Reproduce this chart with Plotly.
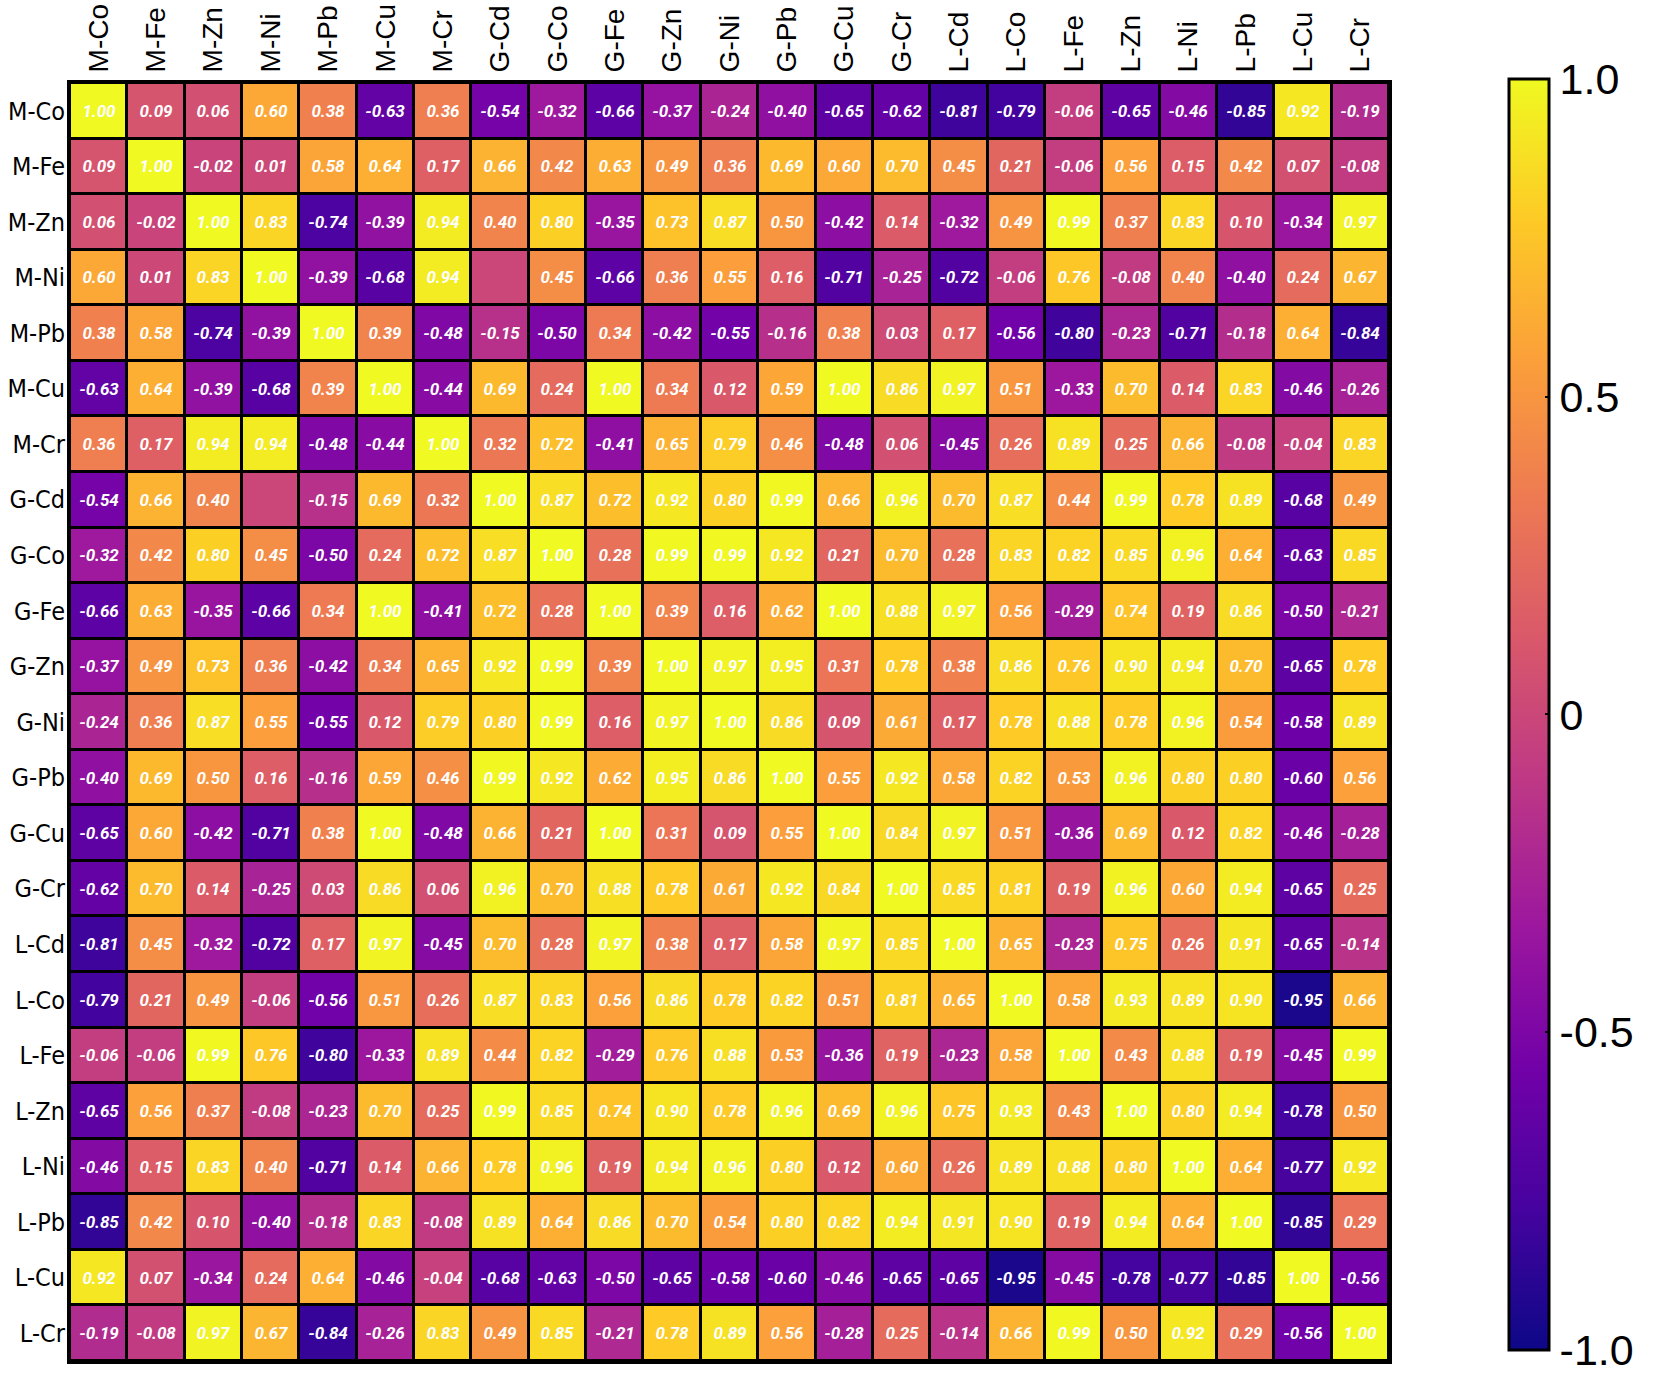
import plotly.graph_objects as go

labels = ["M-Co", "M-Fe", "M-Zn", "M-Ni", "M-Pb", "M-Cu", "M-Cr",
          "G-Cd", "G-Co", "G-Fe", "G-Zn", "G-Ni", "G-Pb", "G-Cu", "G-Cr",
          "L-Cd", "L-Co", "L-Fe", "L-Zn", "L-Ni", "L-Pb", "L-Cu", "L-Cr"]

r_MCo = [1.00, 0.09, 0.06, 0.60, 0.38, -0.63, 0.36, -0.54, -0.32, -0.66, -0.37, -0.24, -0.40, -0.65, -0.62, -0.81, -0.79, -0.06, -0.65, -0.46, -0.85, 0.92, -0.19]
r_MFe = [0.09, 1.00, -0.02, 0.01, 0.58, 0.64, 0.17, 0.66, 0.42, 0.63, 0.49, 0.36, 0.69, 0.60, 0.70, 0.45, 0.21, -0.06, 0.56, 0.15, 0.42, 0.07, -0.08]
r_MZn = [0.06, -0.02, 1.00, 0.83, -0.74, -0.39, 0.94, 0.40, 0.80, -0.35, 0.73, 0.87, 0.50, -0.42, 0.14, -0.32, 0.49, 0.99, 0.37, 0.83, 0.10, -0.34, 0.97]
r_MNi = [0.60, 0.01, 0.83, 1.00, -0.39, -0.68, 0.94, 0.00, 0.45, -0.66, 0.36, 0.55, 0.16, -0.71, -0.25, -0.72, -0.06, 0.76, -0.08, 0.40, -0.40, 0.24, 0.67]
r_MPb = [0.38, 0.58, -0.74, -0.39, 1.00, 0.39, -0.48, -0.15, -0.50, 0.34, -0.42, -0.55, -0.16, 0.38, 0.03, 0.17, -0.56, -0.80, -0.23, -0.71, -0.18, 0.64, -0.84]
r_MCu = [-0.63, 0.64, -0.39, -0.68, 0.39, 1.00, -0.44, 0.69, 0.24, 1.00, 0.34, 0.12, 0.59, 1.00, 0.86, 0.97, 0.51, -0.33, 0.70, 0.14, 0.83, -0.46, -0.26]
r_MCr = [0.36, 0.17, 0.94, 0.94, -0.48, -0.44, 1.00, 0.32, 0.72, -0.41, 0.65, 0.79, 0.46, -0.48, 0.06, -0.45, 0.26, 0.89, 0.25, 0.66, -0.08, -0.04, 0.83]
r_GCd = [-0.54, 0.66, 0.40, 0.00, -0.15, 0.69, 0.32, 1.00, 0.87, 0.72, 0.92, 0.80, 0.99, 0.66, 0.96, 0.70, 0.87, 0.44, 0.99, 0.78, 0.89, -0.68, 0.49]
r_GCo = [-0.32, 0.42, 0.80, 0.45, -0.50, 0.24, 0.72, 0.87, 1.00, 0.28, 0.99, 0.99, 0.92, 0.21, 0.70, 0.28, 0.83, 0.82, 0.85, 0.96, 0.64, -0.63, 0.85]
r_GFe = [-0.66, 0.63, -0.35, -0.66, 0.34, 1.00, -0.41, 0.72, 0.28, 1.00, 0.39, 0.16, 0.62, 1.00, 0.88, 0.97, 0.56, -0.29, 0.74, 0.19, 0.86, -0.50, -0.21]
r_GZn = [-0.37, 0.49, 0.73, 0.36, -0.42, 0.34, 0.65, 0.92, 0.99, 0.39, 1.00, 0.97, 0.95, 0.31, 0.78, 0.38, 0.86, 0.76, 0.90, 0.94, 0.70, -0.65, 0.78]
r_GNi = [-0.24, 0.36, 0.87, 0.55, -0.55, 0.12, 0.79, 0.80, 0.99, 0.16, 0.97, 1.00, 0.86, 0.09, 0.61, 0.17, 0.78, 0.88, 0.78, 0.96, 0.54, -0.58, 0.89]
r_GPb = [-0.40, 0.69, 0.50, 0.16, -0.16, 0.59, 0.46, 0.99, 0.92, 0.62, 0.95, 0.86, 1.00, 0.55, 0.92, 0.58, 0.82, 0.53, 0.96, 0.80, 0.80, -0.60, 0.56]
r_GCu = [-0.65, 0.60, -0.42, -0.71, 0.38, 1.00, -0.48, 0.66, 0.21, 1.00, 0.31, 0.09, 0.55, 1.00, 0.84, 0.97, 0.51, -0.36, 0.69, 0.12, 0.82, -0.46, -0.28]
r_GCr = [-0.62, 0.70, 0.14, -0.25, 0.03, 0.86, 0.06, 0.96, 0.70, 0.88, 0.78, 0.61, 0.92, 0.84, 1.00, 0.85, 0.81, 0.19, 0.96, 0.60, 0.94, -0.65, 0.25]
r_LCd = [-0.81, 0.45, -0.32, -0.72, 0.17, 0.97, -0.45, 0.70, 0.28, 0.97, 0.38, 0.17, 0.58, 0.97, 0.85, 1.00, 0.65, -0.23, 0.75, 0.26, 0.91, -0.65, -0.14]
r_LCo = [-0.79, 0.21, 0.49, -0.06, -0.56, 0.51, 0.26, 0.87, 0.83, 0.56, 0.86, 0.78, 0.82, 0.51, 0.81, 0.65, 1.00, 0.58, 0.93, 0.89, 0.90, -0.95, 0.66]
r_LFe = [-0.06, -0.06, 0.99, 0.76, -0.80, -0.33, 0.89, 0.44, 0.82, -0.29, 0.76, 0.88, 0.53, -0.36, 0.19, -0.23, 0.58, 1.00, 0.43, 0.88, 0.19, -0.45, 0.99]
r_LZn = [-0.65, 0.56, 0.37, -0.08, -0.23, 0.70, 0.25, 0.99, 0.85, 0.74, 0.90, 0.78, 0.96, 0.69, 0.96, 0.75, 0.93, 0.43, 1.00, 0.80, 0.94, -0.78, 0.50]
r_LNi = [-0.46, 0.15, 0.83, 0.40, -0.71, 0.14, 0.66, 0.78, 0.96, 0.19, 0.94, 0.96, 0.80, 0.12, 0.60, 0.26, 0.89, 0.88, 0.80, 1.00, 0.64, -0.77, 0.92]
r_LPb = [-0.85, 0.42, 0.10, -0.40, -0.18, 0.83, -0.08, 0.89, 0.64, 0.86, 0.70, 0.54, 0.80, 0.82, 0.94, 0.91, 0.90, 0.19, 0.94, 0.64, 1.00, -0.85, 0.29]
r_LCu = [0.92, 0.07, -0.34, 0.24, 0.64, -0.46, -0.04, -0.68, -0.63, -0.50, -0.65, -0.58, -0.60, -0.46, -0.65, -0.65, -0.95, -0.45, -0.78, -0.77, -0.85, 1.00, -0.56]
r_LCr = [-0.19, -0.08, 0.97, 0.67, -0.84, -0.26, 0.83, 0.49, 0.85, -0.21, 0.78, 0.89, 0.56, -0.28, 0.25, -0.14, 0.66, 0.99, 0.50, 0.92, 0.29, -0.56, 1.00]

# cells drawn without a number label in the reference
unlabeled = [("M-Ni", "G-Cd"), ("G-Cd", "M-Ni")]

colorbar_ticks = [1.0, 0.5, 0.0, -0.5, -1.0]
colorbar_ticktext = ["1.0", "0.5", "0", "-0.5", "-1.0"]

z = [r_MCo, r_MFe, r_MZn, r_MNi, r_MPb, r_MCu, r_MCr, r_GCd, r_GCo, r_GFe, r_GZn,
     r_GNi, r_GPb, r_GCu, r_GCr, r_LCd, r_LCo, r_LFe, r_LZn, r_LNi, r_LPb, r_LCu, r_LCr]

text = []
for i, row in enumerate(z):
    trow = []
    for j, v in enumerate(row):
        if (labels[i], labels[j]) in unlabeled:
            trow.append("")
        else:
            trow.append(f"{v:.2f}")
    text.append(trow)

fig = go.Figure(go.Heatmap(
    z=z, x=labels, y=labels,
    text=text, texttemplate="%{text}",
    textfont=dict(family="Roboto", size=17, color="white", style="italic", weight="bold"),
    colorscale="Plasma", zmin=-1, zmax=1,
    xgap=3, ygap=3,
    colorbar=dict(
        x=1.091, xanchor="left", xref="paper",
        y=0.5059, yanchor="middle", len=0.9945, lenmode="fraction",
        thickness=40, outlinewidth=3, outlinecolor="black",
        xpad=0, ypad=0,
        tickvals=colorbar_ticks, ticktext=colorbar_ticktext,
        ticks="inside", ticklen=5, tickwidth=2, tickcolor="black",
        ticklabeloverflow="allow",
        tickfont=dict(family="Liberation Sans", size=43, color="black"),
    ),
    hoverongaps=False,
))

fig.update_layout(
    width=1654, height=1379,
    margin=dict(l=70, r=265, t=83, b=18, autoexpand=False),
    paper_bgcolor="white", plot_bgcolor="black",
    font=dict(family="Liberation Sans", color="black"),
)
fig.update_xaxes(
    side="top", tickangle=-90, type="category",
    categoryorder="array", categoryarray=labels,
    tickfont=dict(family="Liberation Sans", size=28, color="black"),
    showline=True, linewidth=3, linecolor="black", mirror=True,
    ticks="", showgrid=False, zeroline=False, automargin=False, ticklabelstandoff=2,
)
fig.update_yaxes(
    autorange="reversed", type="category",
    categoryorder="array", categoryarray=labels,
    tickfont=dict(family="DejaVu Sans Condensed, Liberation Sans Narrow, Roboto", size=25, color="black"),
    showline=True, linewidth=3, linecolor="black", mirror=True,
    ticks="", showgrid=False, zeroline=False, automargin=False, ticklabelstandoff=-3,
)

fig.write_html(
    "out.html",
    config={"displayModeBar": False},
    post_script="document.body.style.margin='0';document.body.style.overflow='hidden';",
)
